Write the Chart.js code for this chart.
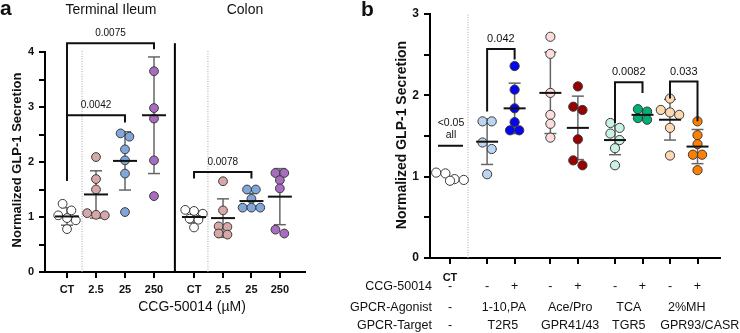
<!DOCTYPE html>
<html lang="en">
<head>
<meta charset="UTF-8">
<title>Normalized GLP-1 Secretion</title>
<script src="https://cdn.jsdelivr.net/npm/chart.js"></script>
<style>
  body { margin: 0; background: #fff; }
  #wrap { position: relative; width: 740px; height: 333px; }
  canvas { position: absolute; top: 0; }
  #chartA { left: 0; }
  #chartB { left: 330px; }
</style>
</head>
<body>
<div id="wrap">
  <canvas id="chartA" width="360" height="333"></canvas>
  <canvas id="chartB" width="410" height="333"></canvas>
</div>
<script>
// ---- panel a data ----
const doseLabels = ['CT', '2.5', '25', '250'];
const ileumValues = [
  [1.24, 1.12, 1.03, 0.98, 0.94, 0.78],
  [2.09, 1.69, 1.50, 1.07, 1.04, 1.03],
  [2.52, 2.46, 2.23, 2.03, 1.79, 1.09],
  [3.65, 2.98, 2.79, 2.03, 1.38]
];
const ileumMean = [1.01, 1.41, 2.02, 2.85];
const ileumSD = [0.16, 0.43, 0.53, 1.06];
const colonValues = [
  [1.13, 1.11, 1.06, 0.97, 0.95, 0.81],
  [1.65, 1.12, 0.83, 0.82, 0.70, 0.68],
  [1.50, 1.50, 1.33, 1.17, 1.17, 1.17],
  [1.80, 1.80, 1.67, 1.52, 0.77, 0.70]
];
const colonMean = [1.00, 0.98, 1.29, 1.37];
const colonSD = [0.11, 0.35, 0.14, 0.51];
const pValuesA = ['0.0075', '0.0042', '0.0078'];

// ---- panel b data ----
const ccgRow = ['-', '-', '+', '-', '+', '-', '+', '-', '+'];
const agonists = ['-', '1-10,PA', 'Ace/Pro', 'TCA', '2%MH'];
const targets = ['-', 'T2R5', 'GPR41/43', 'TGR5', 'GPR93/CASR'];
const bValues = [
  [1.05, 1.04, 0.97, 0.96, 0.95],
  [1.68, 1.68, 1.42, 1.34, 1.03],
  [2.36, 2.07, 1.84, 1.67, 1.57, 1.57],
  [2.72, 2.51, 2.03, 1.76, 1.65, 1.48],
  [2.11, 1.86, 1.82, 1.46, 1.20, 1.14],
  [1.66, 1.60, 1.53, 1.45, 1.35, 1.14],
  [1.83, 1.80, 1.72, 1.70],
  [1.96, 1.82, 1.79, 1.76, 1.60, 1.26],
  [1.68, 1.51, 1.40, 1.27, 1.27, 1.08]
];
const bMean = [null, 1.43, 1.84, 2.03, 1.60, 1.45, 1.76, 1.70, 1.37];
const bSD = [null, 0.28, 0.31, 0.50, 0.39, 0.18, 0.06, 0.25, 0.21];
const pValuesB = ['<0.05', 'all', '0.042', '0.0082', '0.033'];

// ---- layout / style ----
const FONT = '"Liberation Sans", Arial, Helvetica, sans-serif';
Chart.defaults.font.family = FONT;
const posA = [0, 1, 2, 3, 4.38, 5.38, 6.36, 7.34];
const posB = [0, 1.35, 2.35, 3.65, 4.65, 6.0, 7.0, 8.0, 9.0];
const colorsA = ['#ffffff', '#d8a7a7', '#7fa7da', '#a86cc0'];
const colorsB = ['#ffffff', '#bcd5f1', '#0505ee', '#fddcdc', '#990000', '#c9f2e2', '#00b074', '#fdd8b0', '#ff8000'];
const agonistNudge = [0, 3, 6, 0, 3];
const targetNudge = [0, 2, 6, 0, 16];

const valuesA = ileumValues.concat(colonValues);
const meanA = ileumMean.concat(colonMean);
const sdA = ileumSD.concat(colonSD);

// brackets: group index from/to, bracket level, leg ends (data units)
const bracketsA = [
  { from: 0, to: 3, y: 4.16, left: 1.66, right: 4.05, label: pValuesA[0] },
  { from: 0, to: 2, y: 2.85, left: 1.66, right: 2.72, label: pValuesA[1] },
  { from: 4, to: 6, y: 1.82, left: 1.70, right: 1.70, label: pValuesA[2] }
];
const bracketsB = [
  { from: 1, to: 2, y: 2.57, left: 1.80, right: 2.44, label: pValuesB[2] },
  { from: 5, to: 6, y: 2.16, left: 1.66, right: 2.03, label: pValuesB[3] },
  { from: 7, to: 8, y: 2.17, left: 1.96, right: 1.68, label: pValuesB[4] }
];

function seg(ctx, x1, y1, x2, y2) {
  ctx.beginPath();
  ctx.moveTo(x1, y1);
  ctx.lineTo(x2, y2);
  ctx.stroke();
}

function text(ctx, str, x, y, font, align) {
  ctx.font = font;
  ctx.fillStyle = '#111';
  ctx.textAlign = align || 'center';
  ctx.textBaseline = 'middle';
  ctx.fillText(str, x, y);
}

function vtext(ctx, str, x, y, font) {
  ctx.save();
  ctx.translate(x, y);
  ctx.rotate(-Math.PI / 2);
  text(ctx, str, 0, 0, font);
  ctx.restore();
}

// tick marks, outward like the prism style
function drawTicks(chart, xTicks, yMax) {
  const { ctx, scales: { x, y } } = chart;
  ctx.save();
  ctx.strokeStyle = '#000';
  ctx.lineWidth = 2;
  const by = y.getPixelForValue(0), lx = x.getPixelForValue(x.min);
  xTicks.forEach(v => {
    const px = Math.round(x.getPixelForValue(v));
    seg(ctx, px, by, px, by + 6);
  });
  for (let v = 0; v <= yMax; v += 0.5) {
    const py = Math.round(y.getPixelForValue(v));
    seg(ctx, lx, py, lx - 6, py);
  }
  ctx.restore();
}

function drawErrors(chart, pos, mean, sd, cap) {
  const { ctx, scales: { x, y } } = chart;
  ctx.save();
  ctx.strokeStyle = '#666';
  ctx.lineWidth = 1.5;
  mean.forEach((m, i) => {
    if (m == null) return;
    const px = x.getPixelForValue(pos[i]);
    const t = y.getPixelForValue(m + sd[i]), b = y.getPixelForValue(m - sd[i]);
    seg(ctx, px, t, px, b);
    seg(ctx, px - cap, t, px + cap, t);
    seg(ctx, px - cap, b, px + cap, b);
  });
  ctx.restore();
}

function drawMeans(chart, pos, mean, half) {
  const { ctx, scales: { x, y } } = chart;
  ctx.save();
  ctx.strokeStyle = '#111';
  ctx.lineWidth = 2;
  mean.forEach((m, i) => {
    if (m == null) return;
    const px = x.getPixelForValue(pos[i]), py = y.getPixelForValue(m);
    seg(ctx, px - half, py, px + half, py);
  });
  ctx.restore();
}

function drawBrackets(chart, pos, list, fontSize) {
  const { ctx, scales: { x, y } } = chart;
  ctx.save();
  ctx.strokeStyle = '#111';
  ctx.lineWidth = 2;
  list.forEach(b => {
    const x1 = x.getPixelForValue(pos[b.from]), x2 = x.getPixelForValue(pos[b.to]);
    const py = y.getPixelForValue(b.y);
    ctx.beginPath();
    ctx.moveTo(x1, y.getPixelForValue(b.left));
    ctx.lineTo(x1, py);
    ctx.lineTo(x2, py);
    ctx.lineTo(x2, y.getPixelForValue(b.right));
    ctx.stroke();
    text(ctx, b.label, (x1 + x2) / 2, py - 10, fontSize + 'px ' + FONT);
  });
  ctx.restore();
}

// column scatter: points at about the same height share a row, centred on the column
function swarm(chart, pos, values, r) {
  const xs = chart.scales.x, ys = chart.scales.y;
  chart.data.datasets.forEach((ds, i) => {
    const cx = xs.getPixelForValue(pos[i]);
    const vals = values[i].slice().sort((a, b) => b - a);
    const bins = [];
    vals.forEach(v => {
      const py = ys.getPixelForValue(v);
      const last = bins[bins.length - 1];
      if (last && py - last.y0 < 1.6 * r) last.items.push(v);
      else bins.push({ y0: py, items: [v] });
    });
    ds.data = [];
    bins.forEach(b => b.items.forEach((v, j) => {
      const off = (j - (b.items.length - 1) / 2) * 2 * r;
      ds.data.push({ x: xs.getValueForPixel(cx + off), y: v });
    }));
  });
  chart.update('none');
}

function axisOpts(extra) {
  return Object.assign({
    grid: { display: false },
    border: { display: true, width: 2, color: '#000' }
  }, extra);
}

// ---- panel a ----
const panelA = {
  id: 'panelA',
  beforeDatasetsDraw(chart) {
    const { ctx, scales: { x, y } } = chart;
    ctx.save();
    ctx.strokeStyle = '#aaa';
    ctx.lineWidth = 1;
    ctx.setLineDash([1, 1.5]);
    [0.52, 4.86].forEach(v => {
      const px = x.getPixelForValue(v);
      seg(ctx, px, y.getPixelForValue(0), px, y.getPixelForValue(4.03));
    });
    ctx.setLineDash([]);
    ctx.strokeStyle = '#000';
    ctx.lineWidth = 2;
    const sx = x.getPixelForValue(3.72);
    seg(ctx, sx, y.getPixelForValue(0), sx, y.getPixelForValue(4.16));
    ctx.restore();
    drawErrors(chart, posA, meanA, sdA, 6);
  },
  afterDatasetsDraw(chart) {
    const { ctx } = chart;
    drawMeans(chart, posA, meanA, 12);
    drawBrackets(chart, posA, bracketsA, 10);
    drawTicks(chart, posA, 4);
    ctx.save();
    text(ctx, 'a', 0, 9, 'bold 21px ' + FONT, 'left');
    text(ctx, 'Terminal Ileum', 111, 10, '14px ' + FONT);
    text(ctx, 'Colon', 245, 10, '14px ' + FONT);
    text(ctx, 'CCG-50014 (µM)', 192, 307, '14px ' + FONT);
    vtext(ctx, 'Normalized GLP-1 Secretion', 17, 160, 'bold 13px ' + FONT);
    ctx.restore();
  }
};

const chartA = new Chart(document.getElementById('chartA'), {
  type: 'scatter',
  data: {
    datasets: valuesA.map((vals, i) => ({
      data: vals.map(v => ({ x: posA[i], y: v })),
      backgroundColor: colorsA[i % 4],
      borderColor: '#3a3a3a',
      borderWidth: 1,
      pointRadius: 4.4,
      pointHoverRadius: 4.4
    }))
  },
  options: {
    responsive: false,
    animation: false,
    events: [],
    layout: { padding: { left: 0, right: 55, top: 52, bottom: 0 } },
    plugins: { legend: { display: false }, tooltip: { enabled: false } },
    scales: {
      x: axisOpts({
        type: 'linear', min: -0.759, max: 8.207,
        afterFit: s => { s.height = 61; },
        afterBuildTicks: s => { s.ticks = posA.map(v => ({ value: v })); },
        ticks: { autoSkip: false, maxRotation: 0, padding: 3, color: '#111',
          font: { size: 11, weight: 'bold' }, callback: (v, i) => doseLabels[i % 4] }
      }),
      y: axisOpts({
        min: 0, max: 4,
        afterFit: s => { s.width = 45; },
        ticks: { stepSize: 0.5, autoSkip: false, padding: 3, color: '#111',
          font: { size: 11, weight: 'bold' }, callback: v => Number.isInteger(v) ? v : '' }
      })
    }
  },
  plugins: [panelA]
});
swarm(chartA, posA, valuesA, 4.4);

// ---- panel b ----
const panelB = {
  id: 'panelB',
  beforeDatasetsDraw(chart) {
    const { ctx, scales: { x, y } } = chart;
    ctx.save();
    ctx.strokeStyle = '#aaa';
    ctx.lineWidth = 1;
    ctx.setLineDash([1, 1.5]);
    const dx = x.getPixelForValue(0.655);
    seg(ctx, dx, y.getPixelForValue(0), dx, y.getPixelForValue(3.0));
    ctx.restore();
    drawErrors(chart, posB, bMean, bSD, 6);
  },
  afterDatasetsDraw(chart) {
    const { ctx, scales: { x, y } } = chart;
    drawMeans(chart, posB, bMean, 11);
    drawBrackets(chart, posB, bracketsB, 11);
    drawTicks(chart, posB, 3);
    ctx.save();
    // "<0.05 all" marker over CT
    const cx = x.getPixelForValue(posB[0]);
    const ly = y.getPixelForValue(1.38);
    ctx.strokeStyle = '#111';
    ctx.lineWidth = 2;
    seg(ctx, cx - 12, ly, cx + 13, ly);
    text(ctx, pValuesB[0], cx + 1, ly - 23, '10.5px ' + FONT);
    text(ctx, pValuesB[1], cx + 1, ly - 11, '10.5px ' + FONT);

    text(ctx, 'b', 31, 10, 'bold 21px ' + FONT, 'left');
    vtext(ctx, 'Normalized GLP-1 Secretion', 72, 135, 'bold 14px ' + FONT);

    const rowFont = '12.5px ' + FONT;
    const rows = [287, 308, 326];
    text(ctx, 'CCG-50014', 102, rows[0], rowFont, 'right');
    text(ctx, 'GPCR-Agonist', 102, rows[1], rowFont, 'right');
    text(ctx, 'GPCR-Target', 102, rows[2], rowFont, 'right');
    ccgRow.forEach((s, i) => text(ctx, s, x.getPixelForValue(posB[i]), rows[0], rowFont));
    agonists.forEach((s, k) => {
      const px = k === 0 ? x.getPixelForValue(posB[0])
        : (x.getPixelForValue(posB[2 * k - 1]) + x.getPixelForValue(posB[2 * k])) / 2;
      text(ctx, s, px + agonistNudge[k], rows[1], rowFont);
      text(ctx, targets[k], px + targetNudge[k], rows[2], rowFont);
    });
    ctx.restore();
  }
};

const chartB = new Chart(document.getElementById('chartB'), {
  type: 'scatter',
  data: {
    datasets: bValues.map((vals, i) => ({
      data: vals.map(v => ({ x: posB[i], y: v })),
      backgroundColor: colorsB[i],
      borderColor: '#3a3a3a',
      borderWidth: 1,
      pointRadius: 4.6,
      pointHoverRadius: 4.6
    }))
  },
  options: {
    responsive: false,
    animation: false,
    events: [],
    layout: { padding: { left: 0, right: 20, top: 14, bottom: 0 } },
    plugins: { legend: { display: false }, tooltip: { enabled: false } },
    scales: {
      x: axisOpts({
        type: 'linear', min: -0.727, max: 9.818,
        afterFit: s => { s.height = 75; },
        afterBuildTicks: s => { s.ticks = posB.map(v => ({ value: v })); },
        ticks: { autoSkip: false, maxRotation: 0, padding: 5, color: '#111',
          font: { size: 11, weight: 'bold' }, callback: (v, i) => i === 0 ? 'CT' : '' }
      }),
      y: axisOpts({
        min: 0, max: 3,
        afterFit: s => { s.width = 100; },
        ticks: { stepSize: 0.5, autoSkip: false, padding: 3, color: '#111',
          font: { size: 12, weight: 'bold' }, callback: v => Number.isInteger(v) ? v : '' }
      })
    }
  },
  plugins: [panelB]
});
swarm(chartB, posB, bValues, 4.6);
</script>
</body>
</html>
